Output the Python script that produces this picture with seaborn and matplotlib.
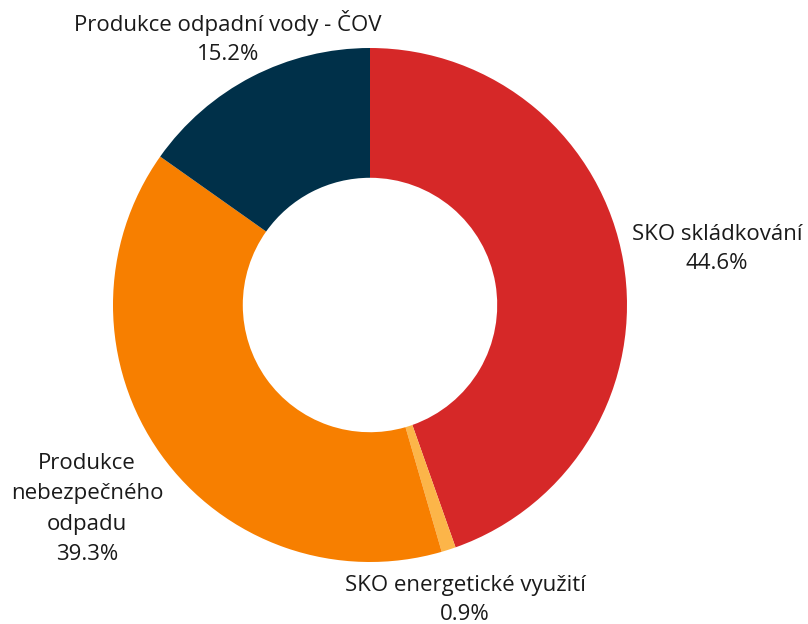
import matplotlib
matplotlib.use('Agg')
import matplotlib.pyplot as plt
import seaborn as sns
import numpy as np

sns.set_theme(style='white')
plt.rcParams['font.family'] = ['Open Sans', 'DejaVu Sans']

# data
categories = ['SKO skládkování', 'SKO energetické využití',
              'Produkce nebezpečného odpadu', 'Produkce odpadní vody - ČOV']
label_texts = ['SKO skládkování', 'SKO energetické využití',
               'Produkce\nnebezpečného\nodpadu', 'Produkce odpadní vody - ČOV']
shares = [44.6, 0.9, 39.3, 15.2]
colors = ['#d62828', '#fcb549', '#f77f00', '#003049']

fig = plt.figure(figsize=(8.08, 6.24), dpi=100)
ax = fig.add_axes([0, 0, 1, 1])

cx, cy, r = 370, 319, 257
wedges, _ = ax.pie(shares, colors=colors, startangle=90, counterclock=False,
                   center=(cx, cy), radius=r, frame=True,
                   wedgeprops=dict(width=r * 0.505, linewidth=0))
ax.set_xlim(0, 808)
ax.set_ylim(0, 624)
ax.set_aspect('equal')
ax.axis('off')

# label anchor positions (pixels from top-left)
label_pos = [(717, 249), (465, 600), (87, 509), (228, 37)]
spacing = [1.5, 1.5, 1.58, 1.5]
for txt, val, (x, y), ls in zip(label_texts, shares, label_pos, spacing):
    ax.text(x, 624 - y, f'{txt}\n{val}%', ha='center', va='center',
            fontsize=16, color='#1a1a1a', linespacing=ls)

fig.savefig('out.png', dpi=100)
